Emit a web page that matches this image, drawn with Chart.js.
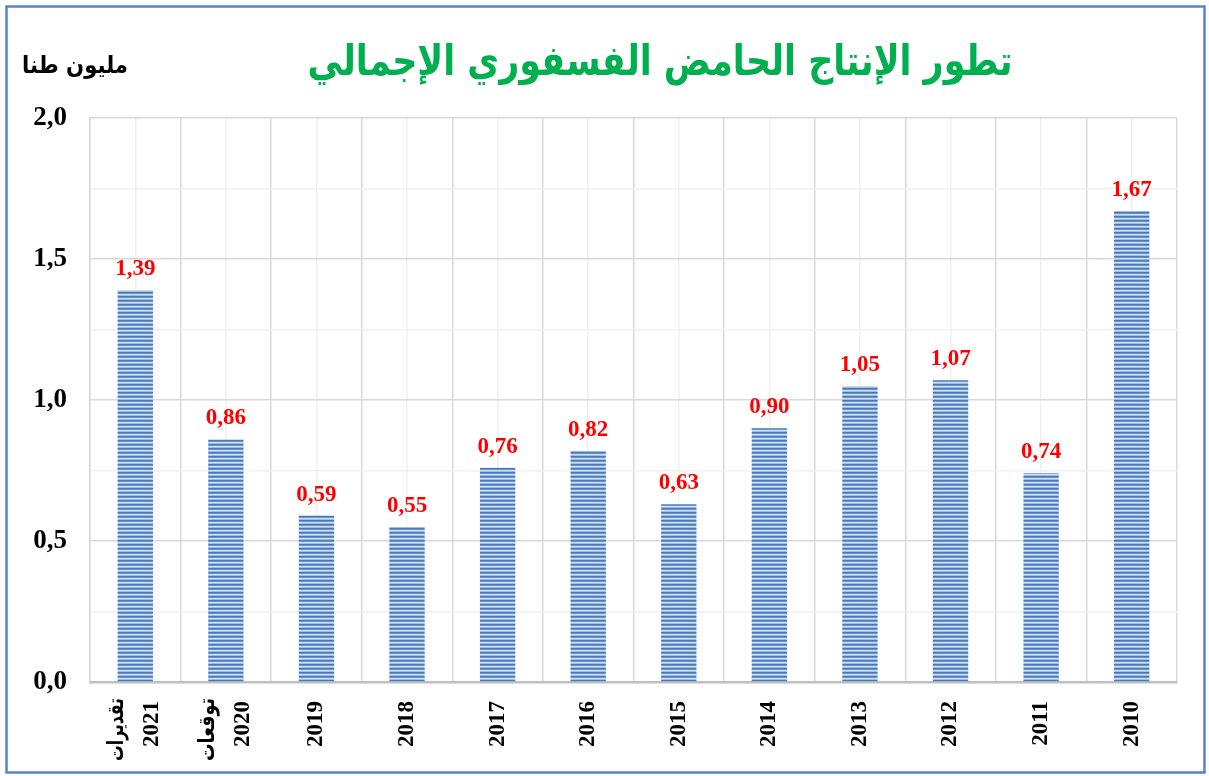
<!DOCTYPE html>
<html><head><meta charset="utf-8">
<script src="https://cdn.jsdelivr.net/npm/chart.js@4"></script>
<style>html,body{margin:0;padding:0;background:#fff}#wrap{width:1209px;height:776px;position:relative}</style>
</head><body><div id="wrap"><canvas id="c" width="1209" height="776"></canvas></div>
<script>
// ---- data ----
const categories = [["تقديرات","2021"],["توقعات","2020"],"2019","2018","2017","2016","2015","2014","2013","2012","2011","2010"];
const values = [1.39,0.86,0.59,0.55,0.76,0.82,0.63,0.90,1.05,1.07,0.74,1.67];
const yTickLabels = ["0,0","0,5","1,0","1,5","2,0"];
const titleText = "تطور الإنتاج الحامض الفسفوري الإجمالي";
const unitText = "مليون طنا";

const fmt = v => v.toFixed(2).replace('.', ',');
const serif = "'Liberation Serif', 'DejaVu Sans', serif";
const X_FONT = 23, X_PAD = 19;

const canvas = document.getElementById('c');
const ctx0 = canvas.getContext('2d');
function makeStripes(){
  const c = document.createElement('canvas'); c.width = 4; c.height = 4;
  const x = c.getContext('2d');
  const rows = ['#4677bb','#6c94cc','#d0def1','#a3bde2'];
  rows.forEach((col,i)=>{ x.fillStyle = col; x.fillRect(0,i,4,1); });
  return ctx0.createPattern(c,'repeat');
}
const stripes = makeStripes();

function fitText(ctx, text, x, y, width){
  const w = ctx.measureText(text).width;
  ctx.save(); ctx.translate(x, y); ctx.scale(width / w, 1); ctx.fillText(text, 0, 0); ctx.restore();
}

const deco = {
  id: 'deco',
  beforeDraw(chart){
    const ctx = chart.ctx; ctx.save(); ctx.fillStyle = '#fff'; ctx.fillRect(0,0,chart.width,chart.height); ctx.restore();
  },
  afterDraw(chart){
    const ctx = chart.ctx; ctx.save();
    // outer border
    ctx.strokeStyle = '#5585c8'; ctx.lineWidth = 2.5;
    ctx.strokeRect(6.5,6.5,1198,766);
    // data labels
    ctx.fillStyle = '#ff0000'; ctx.font = "bold 23px " + serif; ctx.textAlign = 'center'; ctx.textBaseline = 'alphabetic';
    chart.getDatasetMeta(0).data.forEach((bar,i)=>{ ctx.fillText(fmt(values[i]), bar.x, bar.y - 15); });
    // Arabic first line of two-line category labels
    const xs = chart.scales.x;
    ctx.fillStyle = '#000'; ctx.font = "bold 22px 'DejaVu Sans'";
    categories.forEach((c,i)=>{
      if (Array.isArray(c)) {
        const px = xs.getPixelForTick(i);
        ctx.save();
        ctx.translate(px - 18, xs.top + X_PAD - 3);
        ctx.rotate(-Math.PI/2);
        ctx.textAlign = 'right'; ctx.textBaseline = 'middle';
        const w = ctx.measureText(c[0]).width;
        const target = 63;
        ctx.scale(target / w, 1);
        ctx.fillText(c[0], 0, 0);
        ctx.restore();
      }
    });
    // title
    ctx.fillStyle = '#00b050'; ctx.font = "bold 42px 'DejaVu Sans'"; ctx.textAlign = 'center'; ctx.textBaseline = 'alphabetic';
    fitText(ctx, titleText, 660, 75, 705);
    // unit
    ctx.fillStyle = '#000'; ctx.font = "bold 24px 'DejaVu Sans'";
    fitText(ctx, unitText, 75, 73, 106);
    ctx.restore();
  }
};

new Chart(canvas, {
  type: 'bar',
  data: { labels: categories, datasets: [{ data: values, backgroundColor: stripes, borderWidth: 0, barPercentage: 0.39, categoryPercentage: 1 }] },
  options: {
    responsive: false, devicePixelRatio: 1, animation: false,
    layout: { padding: { top: 118, right: 32, bottom: 0, left: 0 } },
    plugins: { legend: { display: false }, tooltip: { enabled: false }, title: { display: false } },
    scales: {
      x: {
        position: 'bottom', offset: true,
        grid: { offset: true, color: '#d9d9d9', lineWidth: 1.5, drawTicks: false },
        border: { color: '#bfbfbf', width: 2.5 },
        ticks: { color: '#000', font: { family: serif, size: X_FONT, weight: 'bold', lineHeight: 0.74 }, minRotation: 90, maxRotation: 90, padding: X_PAD, autoSkip: false,
          callback: function(v, i){ const c = categories[i]; return Array.isArray(c) ? ['', c[1]] : c; } },
        afterFit: s => { s.height = 94; }
      },
      x2: {
        position: 'top', offset: true, display: true,
        grid: { offset: false, color: '#f0f0f0', lineWidth: 1.5, drawTicks: false },
        border: { display: false },
        ticks: { display: false },
        afterFit: s => { s.height = 0; }
      },
      y: {
        min: 0, max: 2,
        ticks: { stepSize: 0.25, color: '#000', padding: 23, font: { family: serif, size: 27, weight: 'bold' },
          callback: v => { const i = Math.round(v*2); return Math.abs(v*2 - i) < 1e-6 ? yTickLabels[i] : ''; } },
        grid: { drawTicks: false, color: c => (Math.abs(c.tick.value*2 - Math.round(c.tick.value*2)) < 1e-6 ? '#d9d9d9' : '#f0f0f0'), lineWidth: 1.5 },
        border: { color: '#d9d9d9', width: 1.5 },
        afterFit: s => { s.width = 90; }
      }
    }
  },
  plugins: [deco]
});
</script></body></html>
